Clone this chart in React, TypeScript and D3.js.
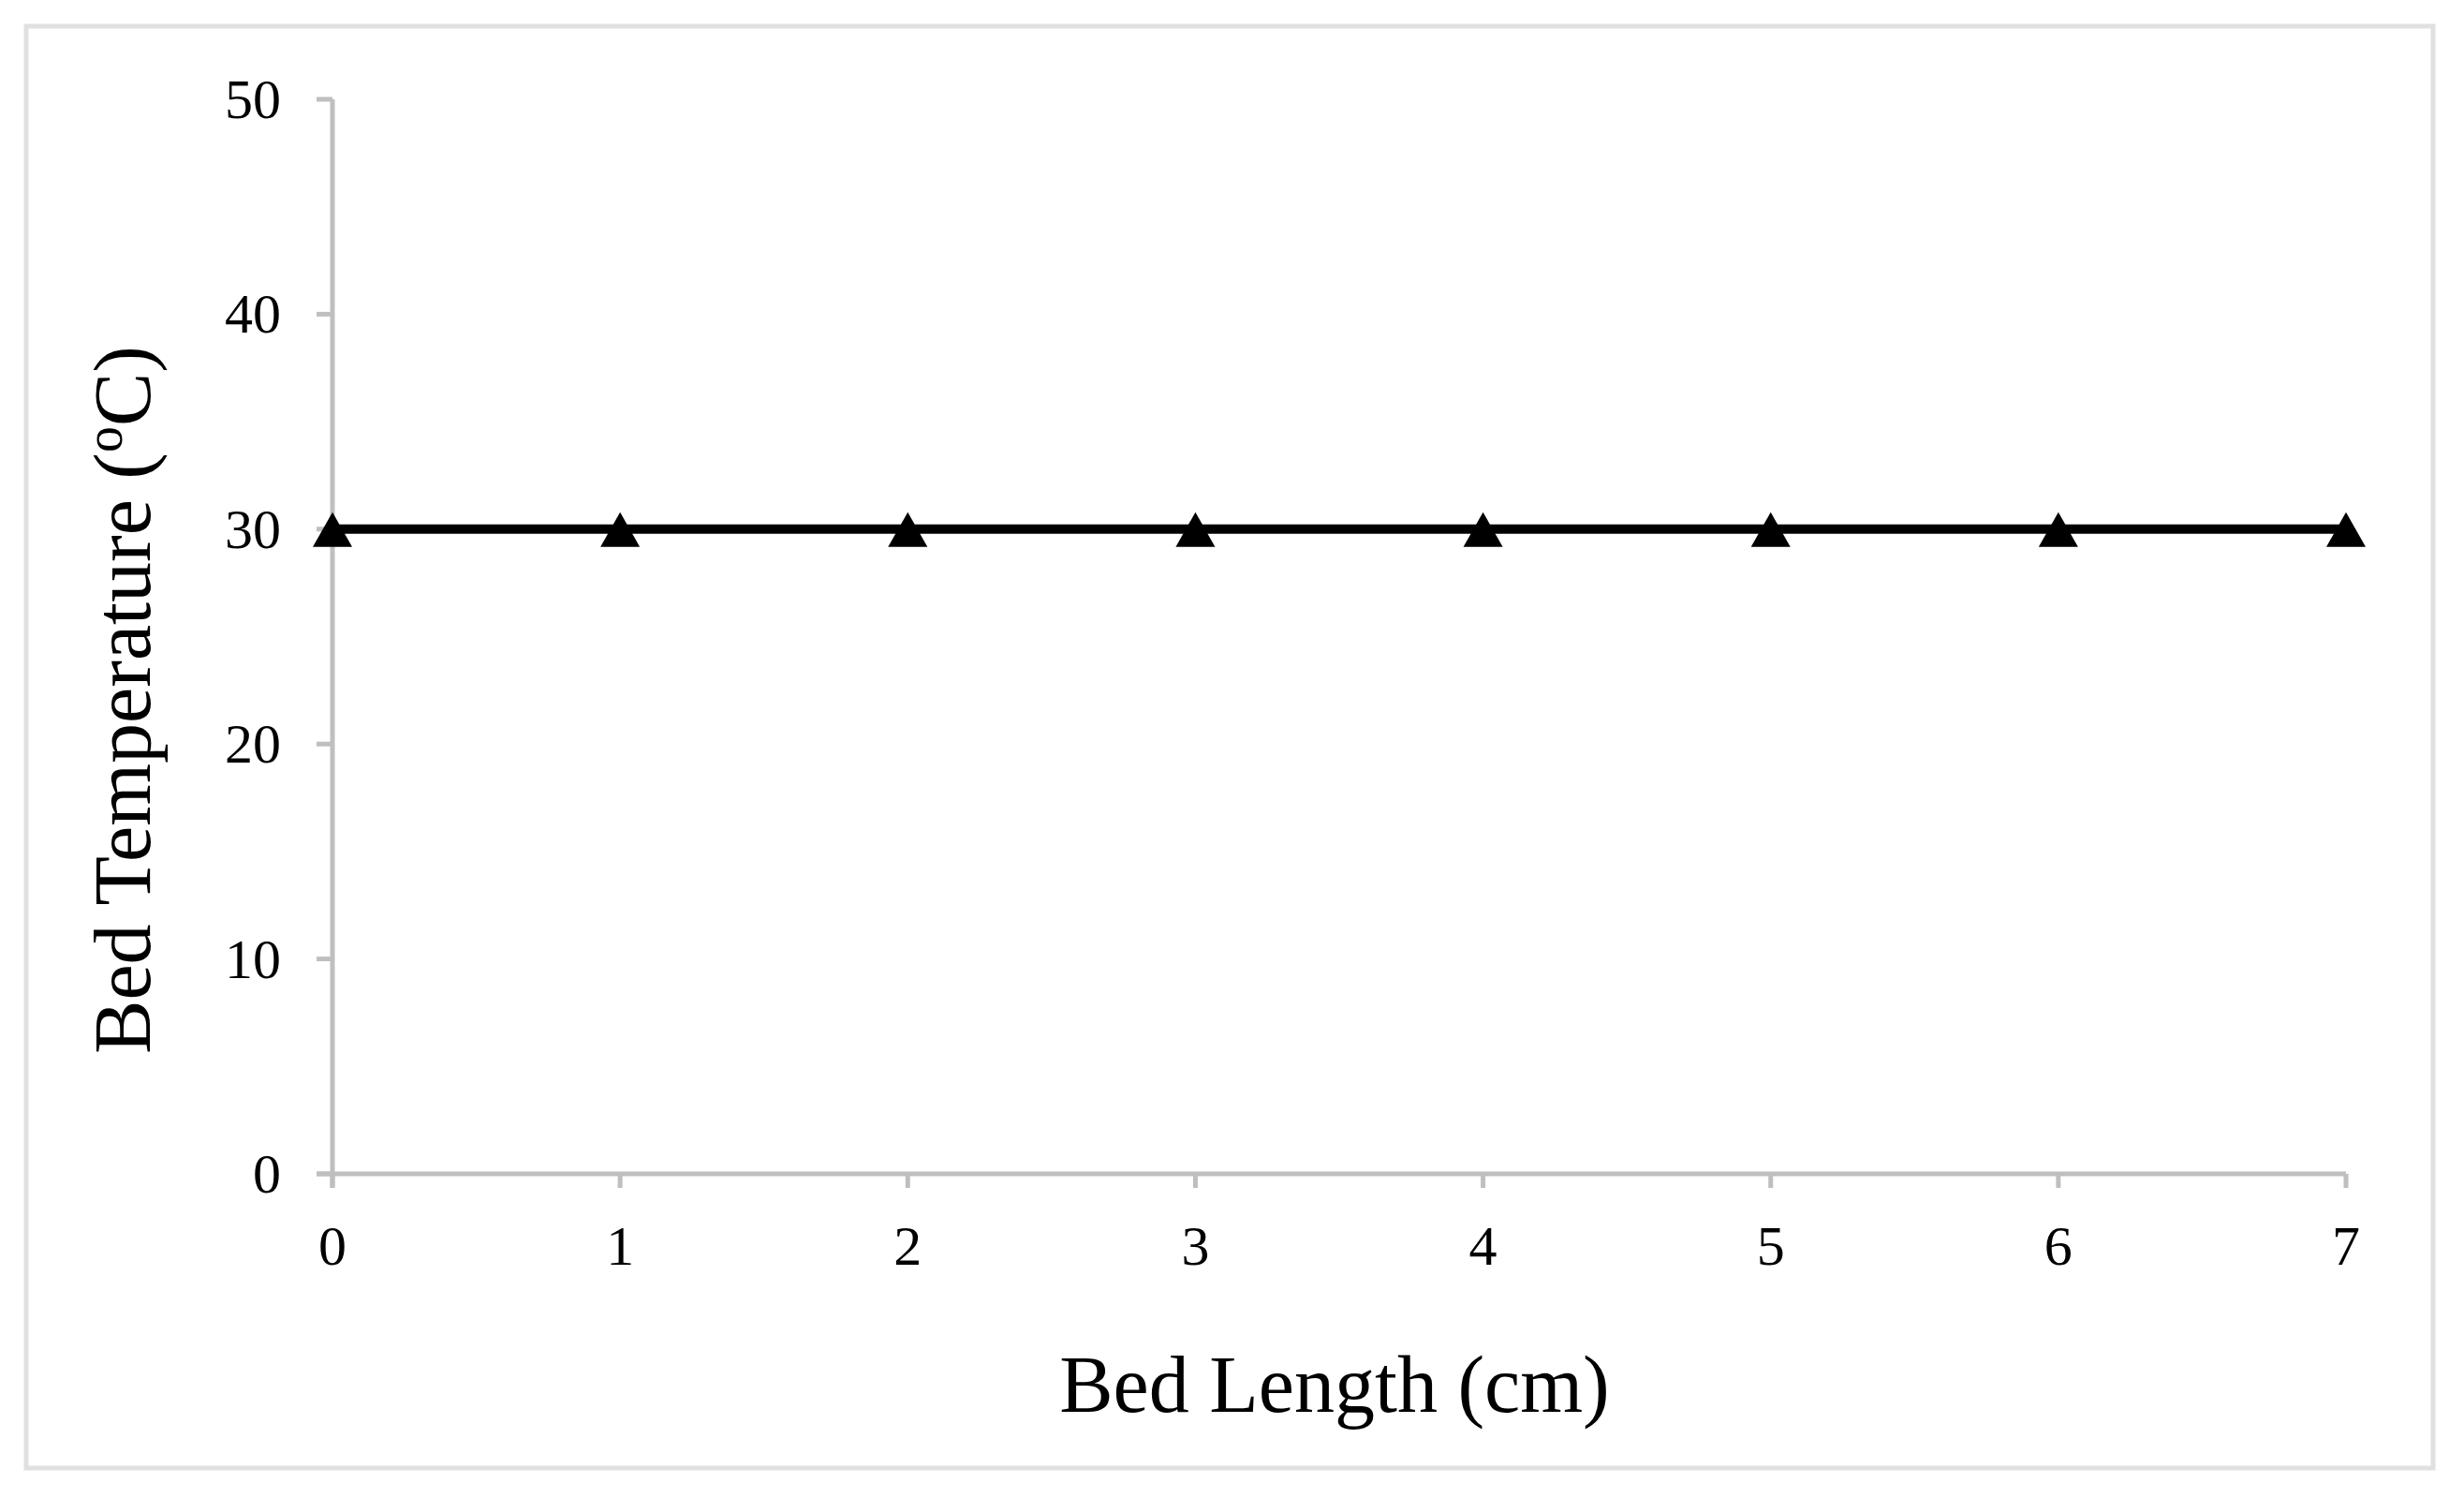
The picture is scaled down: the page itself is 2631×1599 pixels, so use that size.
import React from "react";
import * as d3 from "d3";

const bedLength = [0, 1, 2, 3, 4, 5, 6, 7];
const bedTemperature = [30, 30, 30, 30, 30, 30, 30, 30];
const xTicks = [0, 1, 2, 3, 4, 5, 6, 7];
const yTicks = [0, 10, 20, 30, 40, 50];

const W = 2631;
const H = 1599;
const FONT = "'Liberation Serif', 'Times New Roman', serif";

export default function App() {
  const x = d3.scaleLinear().domain([0, 7]).range([355, 2505]);
  const y = d3.scaleLinear().domain([0, 50]).range([1253, 106]);
  const line = d3
    .line<number>()
    .x((_, i) => x(bedLength[i]))
    .y((d) => y(d));
  const tri = "M0,-19L21,18L-21,18Z";
  const axisColor = "#bfbfbf";

  return (
    <svg
      width={W}
      height={H}
      style={{ position: "absolute", left: 0, top: 0, background: "#fff" }}
    >
      <rect x={0} y={0} width={W} height={H} fill="#fff" />
      <rect
        x={28}
        y={28}
        width={2570}
        height={1539}
        fill="#fff"
        stroke="#e0e0e0"
        strokeWidth={5}
      />
      {/* axes */}
      <line x1={x(0)} x2={x(0)} y1={y(50)} y2={y(0) + 15} stroke={axisColor} strokeWidth={5} />
      <line x1={x(0) - 17} x2={x(7)} y1={y(0)} y2={y(0)} stroke={axisColor} strokeWidth={5} />
      {yTicks.map((t) => (
        <g key={"y" + t}>
          <line x1={x(0) - 17} x2={x(0)} y1={y(t)} y2={y(t)} stroke={axisColor} strokeWidth={5} />
          <text
            x={300}
            y={y(t) + 20}
            textAnchor="end"
            fontFamily={FONT}
            fontSize={60}
            fill="#000"
          >
            {t}
          </text>
        </g>
      ))}
      {xTicks.map((t) => (
        <g key={"x" + t}>
          <line x1={x(t)} x2={x(t)} y1={y(0)} y2={y(0) + 15} stroke={axisColor} strokeWidth={5} />
          <text
            x={x(t)}
            y={1350}
            textAnchor="middle"
            fontFamily={FONT}
            fontSize={60}
            fill="#000"
          >
            {t}
          </text>
        </g>
      ))}
      {/* series */}
      <path d={line(bedTemperature) || ""} fill="none" stroke="#000" strokeWidth={10} />
      {bedTemperature.map((v, i) => (
        <path key={"m" + i} d={tri} transform={`translate(${x(bedLength[i])},${y(v) + 1})`} fill="#000" />
      ))}
      {/* axis titles */}
      <text
        x={1425}
        y={1507}
        textAnchor="middle"
        fontFamily={FONT}
        fontSize={86}
        fill="#000"
      >
        Bed Length (cm)
      </text>
      <text
        transform={`translate(160,747) rotate(-90)`}
        textAnchor="middle"
        fontFamily={FONT}
        fontSize={86}
        fill="#000"
      >
        Bed Temperature (
        <tspan fontSize={56} dy={-30}>o</tspan>
        <tspan dy={30}>C)</tspan>
      </text>
    </svg>
  );
}
